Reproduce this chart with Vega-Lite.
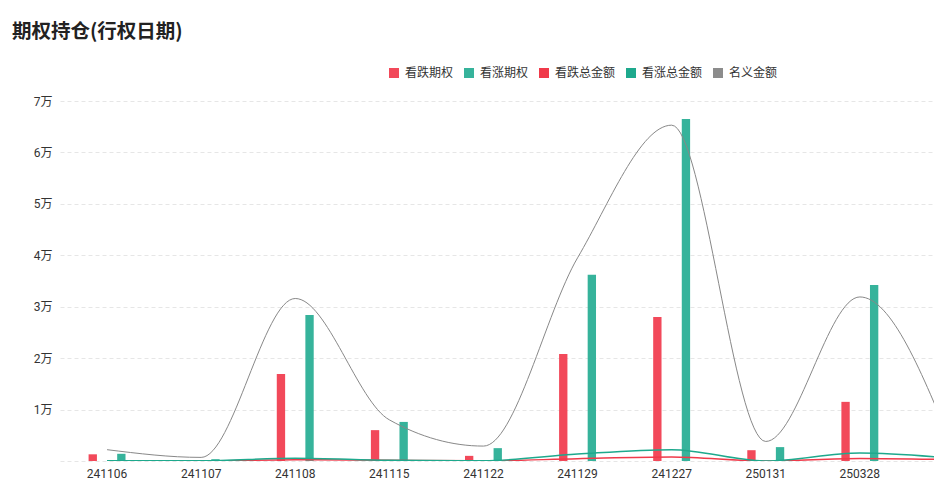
{
  "$schema": "https://vega.github.io/schema/vega-lite/v6.json",
  "width": 874,
  "height": 360,
  "autosize": {"type": "none"},
  "padding": {"left": 60, "top": 101, "right": 0, "bottom": 22},
  "background": "white",
  "title": {
    "text": "期权持仓(行权日期)",
    "anchor": "start",
    "frame": "group",
    "dx": -48,
    "offset": 25,
    "fontSize": 19.5,
    "fontWeight": "bold",
    "font": "Noto Sans CJK SC",
    "color": "#222222"
  },
  "config": {
    "view": {"stroke": null},
    "legend": {"labelFont": "Noto Sans CJK SC"}
  },
  "data": {
    "values": [
      {"date": "241106", "series": "看跌期权", "value": 1300},
      {"date": "241107", "series": "看跌期权", "value": 0},
      {"date": "241108", "series": "看跌期权", "value": 16900},
      {"date": "241115", "series": "看跌期权", "value": 6000},
      {"date": "241122", "series": "看跌期权", "value": 1000},
      {"date": "241129", "series": "看跌期权", "value": 20800},
      {"date": "241227", "series": "看跌期权", "value": 28000},
      {"date": "250131", "series": "看跌期权", "value": 2100},
      {"date": "250328", "series": "看跌期权", "value": 11500},
      {"date": "250627", "series": "看跌期权", "value": 5000},
      {"date": "241106", "series": "看涨期权", "value": 1400},
      {"date": "241107", "series": "看涨期权", "value": 350},
      {"date": "241108", "series": "看涨期权", "value": 28400},
      {"date": "241115", "series": "看涨期权", "value": 7600},
      {"date": "241122", "series": "看涨期权", "value": 2500},
      {"date": "241129", "series": "看涨期权", "value": 36200},
      {"date": "241227", "series": "看涨期权", "value": 66500},
      {"date": "250131", "series": "看涨期权", "value": 2700},
      {"date": "250328", "series": "看涨期权", "value": 34200},
      {"date": "250627", "series": "看涨期权", "value": 8000},
      {"date": "241106", "series": "看跌总金额", "value": 0},
      {"date": "241107", "series": "看跌总金额", "value": 0},
      {"date": "241108", "series": "看跌总金额", "value": 250},
      {"date": "241115", "series": "看跌总金额", "value": 150},
      {"date": "241122", "series": "看跌总金额", "value": 30},
      {"date": "241129", "series": "看跌总金额", "value": 450},
      {"date": "241227", "series": "看跌总金额", "value": 780},
      {"date": "250131", "series": "看跌总金额", "value": 0},
      {"date": "250328", "series": "看跌总金额", "value": 500},
      {"date": "250627", "series": "看跌总金额", "value": 250},
      {"date": "241106", "series": "看涨总金额", "value": 50},
      {"date": "241107", "series": "看涨总金额", "value": 50},
      {"date": "241108", "series": "看涨总金额", "value": 550},
      {"date": "241115", "series": "看涨总金额", "value": 150},
      {"date": "241122", "series": "看涨总金额", "value": 50},
      {"date": "241129", "series": "看涨总金额", "value": 1350},
      {"date": "241227", "series": "看涨总金额", "value": 2200},
      {"date": "250131", "series": "看涨总金额", "value": 0},
      {"date": "250328", "series": "看涨总金额", "value": 1550},
      {"date": "250627", "series": "看涨总金额", "value": 500},
      {"date": "241106", "series": "名义金额", "value": 2200},
      {"date": "241107", "series": "名义金额", "value": 700},
      {"date": "241108", "series": "名义金额", "value": 31600},
      {"date": "241115", "series": "名义金额", "value": 8000},
      {"date": "241122", "series": "名义金额", "value": 2900},
      {"date": "241129", "series": "名义金额", "value": 39500},
      {"date": "241227", "series": "名义金额", "value": 65300},
      {"date": "250131", "series": "名义金额", "value": 3800},
      {"date": "250328", "series": "名义金额", "value": 31900},
      {"date": "250627", "series": "名义金额", "value": 2000}
    ]
  },
  "encoding": {
    "x": {
      "field": "date",
      "type": "nominal",
      "scale": {
        "domain": ["241106", "241107", "241108", "241115", "241122", "241129", "241227", "250131", "250328", "250627"],
        "range": [0, 941],
        "paddingInner": 0,
        "paddingOuter": 0
      },
      "axis": {
        "title": null,
        "labelAngle": 0,
        "domain": false,
        "ticks": false,
        "grid": false,
        "labelPadding": 7,
        "labelExpr": "datum.value === '250627' ? '' : datum.value",
        "labelFont": "Roboto",
        "labelFontSize": 12,
        "labelColor": "#333333"
      }
    },
    "y": {
      "field": "value",
      "type": "quantitative",
      "scale": {"domain": [0, 70000], "nice": false, "zero": true},
      "axis": {
        "title": null,
        "values": [0, 10000, 20000, 30000, 40000, 50000, 60000, 70000],
        "labelExpr": "datum.value == 0 ? '' : (datum.value / 10000) + '万'",
        "domain": false,
        "ticks": false,
        "labelPadding": 8,
        "labelFont": "Roboto, Noto Sans CJK SC",
        "labelFontSize": 12,
        "labelColor": "#333333",
        "gridColor": "#e6e6e6",
        "gridDash": [4, 3]
      }
    }
  },
  "layer": [
    {
      "transform": [{"filter": "datum.series === '看跌期权' || datum.series === '看涨期权'"}],
      "mark": {"type": "bar", "opacity": 1},
      "encoding": {
        "xOffset": {
          "field": "series",
          "type": "nominal",
          "scale": {"domain": ["看跌期权", "看涨期权"], "paddingInner": 0.7083, "paddingOuter": 1.3146}
        },
        "color": {
          "field": "series",
          "type": "nominal",
          "scale": {
            "domain": ["看跌期权", "看涨期权", "看跌总金额", "看涨总金额", "名义金额"],
            "range": ["#F2495A", "#36B39B", "#F03A4A", "#1EA98D", "#8C8C8C"]
          },
          "legend": {
            "title": null,
            "orient": "none",
            "legendX": 328,
            "legendY": -34,
            "direction": "horizontal",
            "symbolType": "square",
            "symbolSize": 100,
            "symbolStrokeWidth": 0,
            "labelFontSize": 12,
            "labelColor": "#333333",
            "labelOffset": 5,
            "columnPadding": 9
          }
        }
      }
    },
    {
      "transform": [{"filter": "datum.series === '看跌总金额' || datum.series === '看涨总金额'"}],
      "mark": {"type": "line", "interpolate": "monotone", "strokeWidth": 1.5, "clip": true},
      "encoding": {
        "color": {"field": "series", "type": "nominal", "legend": null}
      }
    },
    {
      "transform": [{"filter": "datum.series === '名义金额'"}],
      "mark": {"type": "line", "interpolate": "monotone", "strokeWidth": 1, "color": "#888888", "clip": true},
      "encoding": {}
    }
  ]
}
